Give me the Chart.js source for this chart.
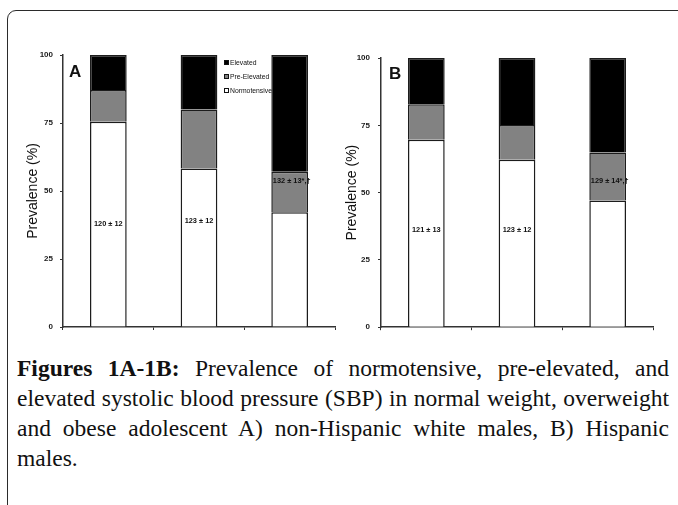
<!DOCTYPE html>
<html>
<head>
<meta charset="utf-8">
<script src="https://cdn.jsdelivr.net/npm/chart.js@4.4.1/dist/chart.umd.min.js"></script>
<style>
body { margin:0; width:678px; height:505px; overflow:hidden; background:#fff; position:relative; font-family:"Liberation Sans", Arial, sans-serif; }
.card { position:absolute; left:7px; top:10px; width:680px; height:600px; border:1.5px solid #2b2b2b; border-radius:9px; }
canvas { position:absolute; top:0; }
#chartA { left:0; }
#chartB { left:318px; }
.panel { position:absolute; font:bold 17px "Liberation Sans", Arial, sans-serif; color:#111; line-height:17px; }
.leg { position:absolute; font:6.8px "Liberation Sans", Arial, sans-serif; color:#111; line-height:8px; white-space:nowrap; }
.leg span { display:inline-block; width:3px; height:3px; border:1px solid #111; margin-right:1px; vertical-align:0; }
.caption { position:absolute; left:17px; top:353px; width:652px; font-family:"Liberation Serif", "Times New Roman", serif; font-size:23.5px; line-height:30px; color:#111; }
.caption div { text-align:justify; text-align-last:justify; }
.caption div.last { text-align-last:left; }
</style>
</head>
<body>
<div class="card"></div>
<canvas id="chartA" width="340" height="340"></canvas>
<canvas id="chartB" width="340" height="340"></canvas>
<div class="panel" style="left:69px;top:63px">A</div>
<div class="panel" style="left:389px;top:65px">B</div>
<div id="legend"></div>
<div class="caption">
  <div><b>Figures 1A-1B:</b> Prevalence of normotensive, pre-elevated, and</div>
  <div>elevated systolic blood pressure (SBP) in normal weight, overweight</div>
  <div>and obese adolescent A) non-Hispanic white males, B) Hispanic</div>
  <div class="last">males.</div>
</div>
<script>
// weight groups (axis labels are not shown in the figure)
const groups = ['Normal weight', 'Overweight', 'Obese']
const seriesNames = ['Normotensive', 'Pre-Elevated', 'Elevated']
const seriesColors = ['#ffffff', '#828282', '#000000']

// A) non-Hispanic white males, % of each group
const normoA = [75.5, 58.3, 42.2]
const preA = [11.6, 21.7, 14.9]
const elevA = [12.9, 20.0, 42.9]
const sbpA = ['120 ± 12', '123 ± 12', '132 ± 13*,†']

// B) Hispanic males
const normoB = [69.6, 62.2, 47.1]
const preB = [13.2, 12.9, 17.8]
const elevB = [17.2, 24.9, 35.1]
const sbpB = ['121 ± 13', '123 ± 12', '129 ± 14*,†']

const yTicks = [0, 25, 50, 75, 100]

// text written inside the bars
const barText = {
    id: 'barText',
    afterDatasetsDraw(chart, args, opts) {
        const ctx = chart.ctx
        const bars = chart.getDatasetMeta(0).data
        ctx.save()
        ctx.font = 'bold 7.4px "Liberation Sans", Arial, sans-serif'
        ctx.fillStyle = '#111'
        ctx.textAlign = 'center'
        ctx.textBaseline = 'middle'
        opts.texts.forEach((t, i) => {
            const y = chart.scales.y.getPixelForValue(opts.at[i])
            ctx.fillText(t, bars[i].x + (opts.dx[i] || 0), y)
        })
        ctx.restore()
    }
}

const makeChart = (id, values, texts, at, dx, pad, xh, titlePad, tickPad) => {
    return new Chart(document.getElementById(id), {
        type: 'bar',
        data: {
            labels: groups,
            datasets: values.map((v, i) => ({
                label: seriesNames[i],
                data: v,
                backgroundColor: seriesColors[i],
                borderColor: '#1c1c1c',
                borderWidth: 1.5,
                borderSkipped: 'bottom',
                barPercentage: 0.405,
                categoryPercentage: 1
            }))
        },
        options: {
            responsive: false,
            animation: false,
            layout: { padding: pad },
            plugins: {
                legend: { display: false },
                tooltip: { enabled: false },
                barText: { texts: texts, at: at, dx: dx }
            },
            scales: {
                x: {
                    stacked: true,
                    ticks: { display: false },
                    grid: { drawOnChartArea: false, drawTicks: true, tickLength: 3, color: '#333', lineWidth: 1 },
                    border: { color: '#333', width: 1.5 },
                    afterFit: (s) => { s.height = xh }
                },
                y: {
                    stacked: true,
                    min: 0,
                    max: 100,
                    afterBuildTicks: (s) => { s.ticks = yTicks.map(v => ({ value: v })) },
                    ticks: { font: { family: '"Liberation Sans", Arial', size: 8, weight: 'bold' }, color: '#1a1a1a', padding: tickPad },
                    grid: { drawOnChartArea: false, tickLength: 3, color: '#333' },
                    border: { color: '#333', width: 1.5 },
                    title: {
                        display: true,
                        text: 'Prevalence (%)',
                        font: { family: '"Liberation Sans", Arial', size: 14 },
                        color: '#111',
                        padding: { top: titlePad, bottom: 0 }
                    },
                    afterFit: (s) => { s.width = 63 }
                }
            }
        },
        plugins: [barText]
    })
}

makeChart('chartA', [normoA, preA, elevA], sbpA, [37.9, 39.1, 53.7], [0, 0, 2],
    { top: 55, right: 5, left: 0, bottom: 0 }, 13, 24.6, 7)
makeChart('chartB', [normoB, preB, elevB], sbpB, [36.3, 36.3, 54.3], [0, 0, 2],
    { top: 58, right: 5, left: 0, bottom: 0 }, 12, 26, 8)

// legend inside panel A, top to bottom: Elevated, Pre-Elevated, Normotensive
const legendTops = [59, 73, 87]
let html = ''
for (let k = 2; k >= 0; k--) {
    html += `<div class="leg" style="left:224px;top:${legendTops[2 - k]}px"><span style="background:${seriesColors[k]}"></span>${seriesNames[k]}</div>`
}
document.getElementById('legend').innerHTML = html
</script>
</body>
</html>
